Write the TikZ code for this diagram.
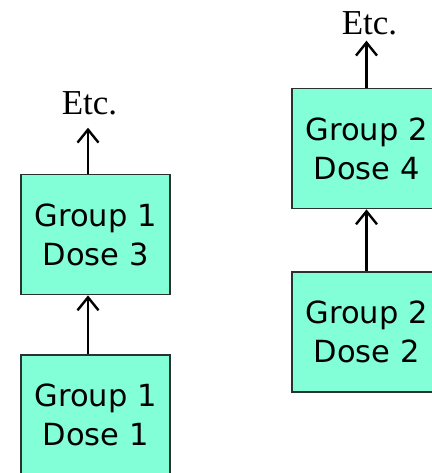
\documentclass[tikz,border=0pt]{standalone}
\usepackage{fontspec}
\setmainfont{Liberation Serif}
\newfontfamily\boxfont{DejaVu Sans}
\usetikzlibrary{arrows.meta}
\definecolor{dosefill}{RGB}{130,255,214}
\definecolor{doseedge}{RGB}{40,50,46}
\tikzset{
  dosebox/.style={draw=doseedge, fill=dosefill, line width=1.8pt,
    minimum width=149pt, minimum height=120pt, inner sep=0pt,
    align=center, font=\boxfont\fontsize{30.5pt}{39pt}\selectfont},
  etclabel/.style={font=\fontsize{35pt}{40pt}\selectfont, anchor=base, inner sep=12pt},
  uparrow/.style={line width=2.4pt, -{Straight Barb[length=13pt, width=21pt, line width=2.4pt]}}
}
\begin{document}
\begin{tikzpicture}[x=1pt, y=1pt]
  \useasboundingbox (0,0) rectangle (431,-473);
  % group 1 column
  \node[dosebox] (g1d3) at (95.5,-234.5) {Group 1\\Dose 3};
  \node[dosebox] (g1d1) at (95.5,-415) {Group 1\\Dose 1};
  \node[etclabel] (etc1) at (89.5,-115) {Etc.};
  % group 2 column
  \node[dosebox] (g2d4) at (366.5,-148.5) {Group 2\\Dose 4};
  \node[dosebox] (g2d2) at (366.5,-332) {Group 2\\Dose 2};
  \node[etclabel, inner sep=5pt] (etc2) at (369.5,-35) {Etc.};
  % connectors
  \draw[uparrow] ([xshift=-7.5pt]g1d1.north) -- ([xshift=-7.5pt]g1d3.south);
  \draw[uparrow] ([xshift=-7.5pt]g1d3.north) -- ([xshift=-7.5pt]g1d3.north |- etc1.south);
  \draw[uparrow] (g2d2.north) -- (g2d4.south);
  \draw[uparrow] (g2d4.north) -- (g2d4.north |- etc2.south);
\end{tikzpicture}
\end{document}
